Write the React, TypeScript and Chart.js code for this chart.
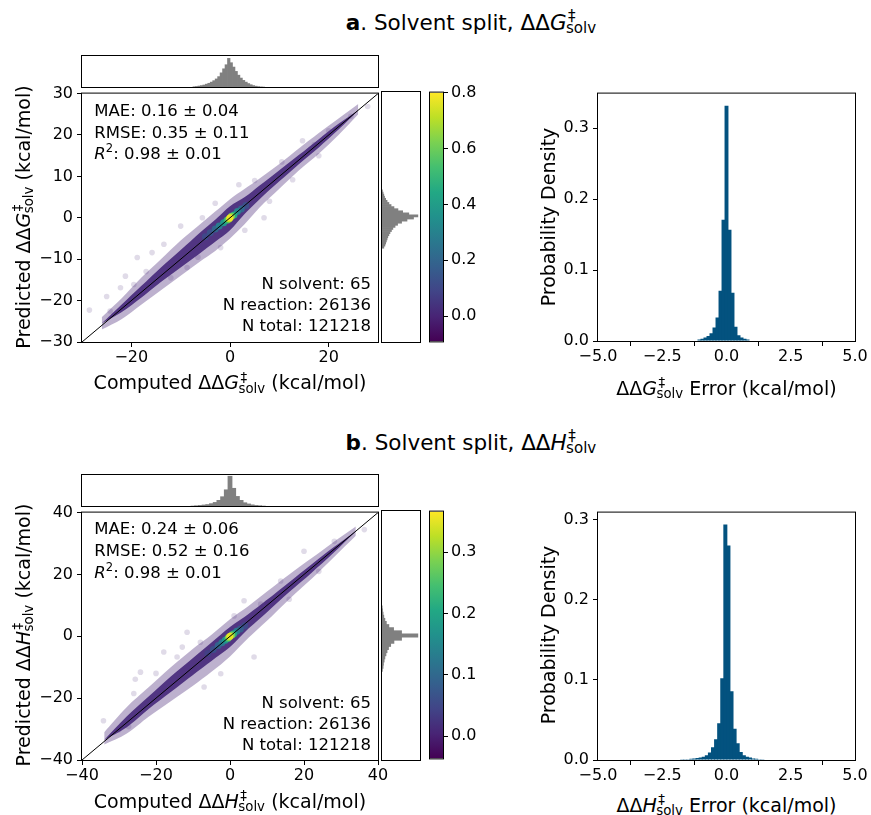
import React, { useEffect, useRef } from 'react';
import { Chart, registerables } from 'chart.js';

Chart.register(...registerables);

const FONT = '"DejaVu Sans", "Liberation Sans", Arial, sans-serif';
Chart.defaults.font.family = FONT;
Chart.defaults.font.size = 16;
Chart.defaults.color = '#000';

// ---------------- Panel a : ΔΔG‡solv ----------------
const rangeA = [-30, 30];
const xTicksA = [-20, 0, 20];
const yTicksA = [-30, -20, -10, 0, 10, 20, 30];
const cbRangeA = [-0.09, 0.8];
const cbTicksA = [0, 0.2, 0.4, 0.6, 0.8];

const topHistXA = [-7.25, -6.75, -6.25, -5.75, -5.25, -4.75, -4.25, -3.75, -3.25, -2.75, -2.25, -1.75, -1.25, -0.75, -0.25, 0.25, 0.75, 1.25, 1.75, 2.25, 2.75, 3.25, 3.75, 4.25, 4.75, 5.25, 5.75, 6.25, 6.75];
const topHistYA = [0.02, 0.03, 0.045, 0.06, 0.08, 0.11, 0.14, 0.18, 0.23, 0.29, 0.37, 0.5, 0.64, 0.78, 1.0, 0.85, 0.7, 0.55, 0.42, 0.32, 0.24, 0.18, 0.13, 0.09, 0.06, 0.04, 0.025, 0.015, 0.01];
const rightHistYA = [6.25, 5.75, 5.25, 4.75, 4.25, 3.75, 3.25, 2.75, 2.25, 1.75, 1.25, 0.75, 0.25, -0.25, -0.75, -1.25, -1.75, -2.25, -2.75, -3.25, -3.75, -4.25, -4.75, -5.25, -5.75, -6.25, -6.75, -7.25];
const rightHistXA = [0.02, 0.04, 0.06, 0.08, 0.11, 0.15, 0.2, 0.26, 0.34, 0.45, 0.58, 0.75, 1.0, 0.88, 0.7, 0.55, 0.44, 0.37, 0.31, 0.27, 0.23, 0.2, 0.17, 0.15, 0.13, 0.11, 0.09, 0.06];

const errXA = [-1.053, -0.936, -0.819, -0.702, -0.585, -0.468, -0.351, -0.234, -0.117, 0, 0.117, 0.234, 0.351, 0.468, 0.585, 0.702, 0.819];
const errYA = [0.002, 0.003, 0.005, 0.007, 0.011, 0.019, 0.033, 0.071, 0.171, 0.332, 0.157, 0.068, 0.02, 0.008, 0.005, 0.003, 0.002];
const errYMaxA = 0.349;

const bandXA = [-26, -22, -18, -14, -10, -6, -3, 0, 3, 6, 10, 14, 18, 22, 26];
const denseUpA = [-25.5, -21, -16.5, -12, -7.8, -3.5, -0.5, 2.8, 5, 7.8, 11.5, 15.2, 19, 22.7, 26];
const denseLoA = [-25.5, -22.8, -19.3, -15.5, -12, -8.5, -5.8, -3, 1, 4.5, 8.8, 13, 17, 21.3, 26];
const hazeUpA = [-24, -19.5, -14.5, -10, -5.5, -1.5, 1.5, 4.5, 7, 9.5, 13, 16.8, 20.5, 24, 27.5];
const hazeLoA = [-27, -24.5, -21, -17.5, -14, -10.5, -8, -5, -1.5, 2.5, 7, 11.5, 15.5, 20, 25];
const outXA = [-28.5, -24.3, -21.2, -19.5, -22.2, -15.8, -13.4, -10, -5.6, 1.8, 6.9, 12.7, 14.7, 17.1, 27.9, 24.5, -18.8, -8.7, -1.9, -17, -12, -6.5, 3, 8, 10.5, 20, -25, -3, 5, 18];
const outYA = [-22.3, -22.5, -14.1, -16.1, -16.9, -8.4, -6.4, -2, 0, 8, 0, 9.2, 18.6, 17.7, 26.9, 24.5, -9.6, -12, -7.2, -13, -14.5, -9.5, -3, 4, 13.5, 21, -19, 3.5, 9, 15];
const coreXA = [-5, -4, 3.2, 2.3, -3, -2.2, 1.5, -1.3, 0.8, -0.6, 0.3, -0.2, 0];
const coreYA = [-4.6, -3.6, 3.0, 2.1, -2.7, -2.0, 1.5, -1.2, 0.7, -0.6, 0.4, -0.3, 0];
const coreDA = [0.1, 0.13, 0.12, 0.2, 0.2, 0.28, 0.3, 0.38, 0.45, 0.5, 0.62, 0.7, 0.78];

// ---------------- Panel b : ΔΔH‡solv ----------------
const rangeB = [-40, 40];
const xTicksB = [-40, -20, 0, 20, 40];
const yTicksB = [-40, -20, 0, 20, 40];
const cbRangeB = [-0.036, 0.366];
const cbTicksB = [0, 0.1, 0.2, 0.3];

const topHistXB = [-10, -9, -8, -7, -6, -5, -4, -3, -2, -1, 0, 1, 2, 3, 4, 5, 6, 7, 8, 9];
const topHistYB = [0.01, 0.02, 0.03, 0.045, 0.06, 0.09, 0.13, 0.2, 0.32, 0.55, 1.0, 0.6, 0.33, 0.2, 0.12, 0.08, 0.05, 0.03, 0.02, 0.01];
const rightHistYB = [9, 8, 7, 6, 5, 4, 3, 2, 1, 0, -1, -2, -3, -4, -5, -6, -7, -8, -9, -10, -11];
const rightHistXB = [0.015, 0.025, 0.04, 0.06, 0.09, 0.13, 0.2, 0.33, 0.55, 1.0, 0.55, 0.34, 0.25, 0.19, 0.15, 0.12, 0.09, 0.07, 0.05, 0.04, 0.02];

const errXB = [-1.845, -1.725, -1.605, -1.485, -1.365, -1.245, -1.125, -1.005, -0.885, -0.765, -0.645, -0.525, -0.405, -0.285, -0.165, -0.045, 0.075, 0.195, 0.315, 0.435, 0.555, 0.675, 0.795, 0.915, 1.035, 1.155, 1.275, 1.395, 1.515];
const errYB = [0.0005, 0.0008, 0.001, 0.001, 0.0015, 0.002, 0.0025, 0.003, 0.004, 0.006, 0.0095, 0.016, 0.026, 0.046, 0.102, 0.294, 0.268, 0.086, 0.039, 0.021, 0.01, 0.006, 0.004, 0.003, 0.002, 0.0015, 0.001, 0.001, 0.0005];
const errYMaxB = 0.309;

const bandXB = [-34, -28, -22, -16, -10, -5, 0, 5, 10, 16, 22, 28, 34];
const denseUpB = [-33.5, -26, -19.5, -13, -7, -2, 3, 7.2, 11.8, 17.5, 23.2, 28.8, 34];
const denseLoB = [-33.5, -29.5, -23.5, -18, -12.5, -8, -3.5, 2.5, 7.8, 14.3, 20.5, 27, 34];
const hazeUpB = [-31, -23, -16.5, -10, -4, 0.5, 5.5, 9.8, 14.5, 20, 25.2, 30.5, 35.5];
const hazeLoB = [-35, -31.5, -26, -21, -16, -11.5, -6.5, -0.5, 5, 12, 18.5, 25.5, 32.5];
const outXB = [-34.2, -30.1, -27.4, -25.6, -24.2, -26, -17.9, -12.9, -14.3, -8, -7, 3.8, 10.1, 20, 36.3, 28.2, 13.7, 8.3, 1.1, -11.6, -2.5, 6.5, -20, 16, 24];
const outYB = [-27.3, -30.3, -29.2, -13.9, -11.6, -18.5, -5.1, -3.5, -6.7, -1.9, -16.4, 11.5, 10.9, 27.5, 34.5, 30.7, 17.9, 10.4, 6.6, 1.3, -12.1, -6.7, -12, 12, 21];
const coreXB = [-6, -4.5, 4, 2.8, -3.2, -2.2, 1.8, -1.3, 1.0, -0.6, 0.5, -0.3, 0];
const coreYB = [-5.6, -4.3, 3.4, 2.4, -3.0, -2.1, 1.6, -1.3, 0.8, -0.7, 0.4, -0.3, 0];
const coreDB = [0.04, 0.06, 0.05, 0.08, 0.09, 0.12, 0.13, 0.17, 0.2, 0.23, 0.28, 0.31, 0.35];

// ---------------- styling helpers ----------------
const VIRIDIS = ['#440154', '#482475', '#414487', '#355f8d', '#2a788e', '#21918c', '#22a884', '#44bf70', '#7ad151', '#bddf26', '#fde725'];
const hexRgb = (h: string) => [parseInt(h.slice(1, 3), 16), parseInt(h.slice(3, 5), 16), parseInt(h.slice(5, 7), 16)];
function viridis(t: number) {
  const c = Math.min(1, Math.max(0, t)) * 10;
  const i = Math.min(9, Math.floor(c));
  const f = c - i;
  const a = hexRgb(VIRIDIS[i]);
  const b = hexRgb(VIRIDIS[i + 1]);
  return `rgb(${a.map((v, k) => Math.round(v + (b[k] - v) * f)).join(',')})`;
}
const DENSE = 'rgba(70,40,122,0.9)';
const HAZE = 'rgba(72,40,120,0.36)';
const OUT = 'rgba(72,40,120,0.17)';
const GRAY = '#808080';
const ERRC = '#03527f';

const fmtInt = (v: number) => String(Math.round(v)).replace('-', '\u2212');
const fmt1 = (v: number) => v.toFixed(1).replace('-', '\u2212');

const boxPlugin = {
  id: 'box',
  afterDatasetsDraw(chart: any) {
    const { ctx, chartArea: a } = chart;
    ctx.save();
    ctx.strokeStyle = '#000';
    ctx.lineWidth = 1;
    ctx.strokeRect(a.left - 0.5, a.top - 0.5, a.right - a.left + 1, a.bottom - a.top + 1);
    ctx.restore();
  },
};

const base = {
  responsive: false,
  animation: false,
  events: [],
  plugins: { legend: { display: false }, tooltip: { enabled: false } },
};

function axis(min: number, max: number, ticks: number[], fmt: (v: number) => string, size: number, horizontal: boolean, pad: number) {
  return {
    type: 'linear',
    min,
    max,
    offset: false,
    afterBuildTicks: (s: any) => {
      s.ticks = ticks.map((v) => ({ value: v }));
    },
    afterFit: (s: any) => {
      if (horizontal) s.height = size;
      else s.width = size;
    },
    ticks: { callback: (v: any) => fmt(Number(v)), autoSkip: false, maxRotation: 0, minRotation: 0, padding: pad, color: '#000', font: { size: 16, family: FONT } },
    grid: { display: true, drawOnChartArea: false, drawTicks: true, tickLength: 5, color: '#000', lineWidth: 1 },
    border: { display: false },
  };
}
const hidden = (min: number, max: number) => ({ type: 'linear', min, max, display: false, offset: false });

type Pads = { l: number; r: number; t: number; b: number };
type Rect = { left: number; top: number; width: number; height: number };

const pts = (xs: number[], ys: number[]) => xs.map((x, i) => ({ x, y: ys[i] }));

function scatterConfig(d: any, pads: Pads) {
  const cols = d.coreD.map((v: number) => viridis((v - d.cb[0]) / (d.cb[1] - d.cb[0])));
  const clear = 'rgba(0,0,0,0)';
  return {
    type: 'scatter',
    data: {
      datasets: [
        { type: 'line', data: [{ x: d.range[0], y: d.range[0] }, { x: d.range[1], y: d.range[1] }], borderColor: '#000', borderWidth: 1, pointRadius: 0, fill: false },
        { type: 'scatter', data: pts(d.coreX, d.coreY), pointRadius: 3.5, pointBackgroundColor: cols, backgroundColor: cols, pointBorderWidth: 0, borderWidth: 0 },
        { type: 'line', data: pts(d.bandX, d.denseUp), fill: '+1', backgroundColor: DENSE, borderColor: clear, pointRadius: 0, tension: 0.3 },
        { type: 'line', data: pts(d.bandX, d.denseLo), fill: false, borderColor: clear, pointRadius: 0, tension: 0.3 },
        { type: 'line', data: pts(d.bandX, d.hazeUp), fill: '+1', backgroundColor: HAZE, borderColor: clear, pointRadius: 0, tension: 0.3 },
        { type: 'line', data: pts(d.bandX, d.hazeLo), fill: false, borderColor: clear, pointRadius: 0, tension: 0.3 },
        { type: 'scatter', data: pts(d.outX, d.outY), pointRadius: 2.8, pointBackgroundColor: OUT, backgroundColor: OUT, pointBorderWidth: 0, borderWidth: 0 },
      ],
    },
    options: {
      ...base,
      layout: { padding: { left: 0, top: pads.t, right: pads.r, bottom: 0 } },
      scales: {
        x: axis(d.range[0], d.range[1], d.xTicks, fmtInt, pads.b, true, 1),
        y: axis(d.range[0], d.range[1], d.yTicks, fmtInt, pads.l, false, 4),
      },
    },
    plugins: [boxPlugin],
  };
}

function topHistConfig(xs: number[], ys: number[], range: number[], ymax: number, pads: Pads) {
  return {
    type: 'bar',
    data: { datasets: [{ data: pts(xs, ys), backgroundColor: GRAY, borderWidth: 0, barPercentage: 1.3, categoryPercentage: 1 }] },
    options: {
      ...base,
      layout: { padding: { left: pads.l, right: pads.r, top: pads.t, bottom: pads.b } },
      scales: { x: hidden(range[0], range[1]), y: hidden(0, ymax) },
    },
    plugins: [boxPlugin],
  };
}

function rightHistConfig(ys: number[], xs: number[], range: number[], xmax: number, pads: Pads) {
  return {
    type: 'bar',
    data: { datasets: [{ data: pts(xs, ys), backgroundColor: GRAY, borderWidth: 0, barPercentage: 1.3, categoryPercentage: 1 }] },
    options: {
      ...base,
      indexAxis: 'y',
      layout: { padding: { left: pads.l, right: pads.r, top: pads.t, bottom: pads.b } },
      scales: { x: hidden(0, xmax), y: hidden(range[0], range[1]) },
    },
    plugins: [boxPlugin],
  };
}

function colorbarConfig(range: number[], ticks: number[], pads: Pads) {
  return {
    type: 'bar',
    data: {
      labels: [''],
      datasets: [
        {
          data: [[range[0], range[1]]],
          borderWidth: 0,
          barPercentage: 1,
          categoryPercentage: 1,
          inflateAmount: 0,
          backgroundColor: (c: any) => {
            const ch = c.chart;
            const y = ch.scales && ch.scales.y;
            if (!ch.chartArea || !y) return VIRIDIS[0];
            const g = ch.ctx.createLinearGradient(0, y.getPixelForValue(range[0]), 0, y.getPixelForValue(range[1]));
            VIRIDIS.forEach((col, i) => g.addColorStop(i / 10, col));
            return g;
          },
        },
      ],
    },
    options: {
      ...base,
      layout: { padding: { left: pads.l, top: pads.t, bottom: pads.b, right: 0 } },
      scales: {
        x: { type: 'category', display: false },
        y: { ...axis(range[0], range[1], ticks, fmt1, pads.r, false, 3), position: 'right' },
      },
    },
    plugins: [boxPlugin],
  };
}

function errHistConfig(xs: number[], ys: number[], ymax: number, pads: Pads) {
  return {
    type: 'bar',
    data: { datasets: [{ data: pts(xs, ys), backgroundColor: ERRC, borderWidth: 0, barPercentage: 1.3, categoryPercentage: 1 }] },
    options: {
      ...base,
      layout: { padding: { left: 0, top: pads.t, right: pads.r, bottom: 0 } },
      scales: {
        x: axis(-5, 5, [-5, -2.5, 0, 2.5, 5], fmt1, pads.b, true, 1),
        y: axis(0, ymax, [0, 0.1, 0.2, 0.3], fmt1, pads.l, false, 4),
      },
    },
    plugins: [boxPlugin],
  };
}

function ChartBox({ area, pads, build }: { area: Rect; pads: Pads; build: () => any }) {
  const ref = useRef<HTMLCanvasElement>(null);
  const w = area.width + pads.l + pads.r;
  const h = area.height + pads.t + pads.b;
  useEffect(() => {
    const chart = new Chart(ref.current as HTMLCanvasElement, build());
    return () => chart.destroy();
  }, []);
  return (
    <div style={{ position: 'absolute', left: area.left - pads.l, top: area.top - pads.t, width: w, height: h }}>
      <canvas ref={ref} width={w} height={h} style={{ width: w, height: h, display: 'block' }} />
    </div>
  );
}

// ---------------- text helpers ----------------
function DD({ letter, fs }: { letter: string; fs: number }) {
  return (
    <span>
      ΔΔ<i>{letter}</i>
      <span style={{ position: 'relative', display: 'inline-block', width: 1.38 * fs, height: 0, verticalAlign: 'baseline' }}>
        <span style={{ position: 'absolute', left: 0.07 * fs, bottom: 0.29 * fs, fontSize: 0.7 * fs, lineHeight: 1, whiteSpace: 'nowrap' }}>‡</span>
        <span style={{ position: 'absolute', left: -0.03 * fs, bottom: -0.3 * fs, fontSize: 0.7 * fs, lineHeight: 1, whiteSpace: 'nowrap' }}>solv</span>
      </span>
    </span>
  );
}

function Txt({ x, y, fs, align = 'left', children }: any) {
  const tx = align === 'center' ? 'translateX(-50%)' : align === 'right' ? 'translateX(-100%)' : 'none';
  return (
    <div style={{ position: 'absolute', left: x, top: y - 0.846 * fs, fontSize: fs, lineHeight: `${fs}px`, whiteSpace: 'nowrap', transform: tx }}>
      {children}
    </div>
  );
}

function VTxt({ x, y, fs, children }: any) {
  return (
    <div
      style={{
        position: 'absolute',
        left: x - 0.346 * fs,
        top: y,
        fontSize: fs,
        lineHeight: `${fs}px`,
        whiteSpace: 'nowrap',
        transform: 'translate(-50%,-50%) rotate(-90deg)',
      }}
    >
      {children}
    </div>
  );
}

const R2 = ({ fs }: { fs: number }) => (
  <>
    <i>R</i>
    <span style={{ position: 'relative', top: -0.42 * fs, fontSize: 0.7 * fs }}>2</span>
  </>
);

const statsA = ['MAE: 0.16 ± 0.04', 'RMSE: 0.35 ± 0.11', ': 0.98 ± 0.01'];
const statsB = ['MAE: 0.24 ± 0.06', 'RMSE: 0.52 ± 0.16', ': 0.98 ± 0.01'];
const countsA = ['N solvent: 65', 'N reaction: 26136', 'N total: 121218'];
const countsB = ['N solvent: 65', 'N reaction: 26136', 'N total: 121218'];

const panelA = {
  range: rangeA, xTicks: xTicksA, yTicks: yTicksA, cb: cbRangeA,
  bandX: bandXA, denseUp: denseUpA, denseLo: denseLoA, hazeUp: hazeUpA, hazeLo: hazeLoA,
  outX: outXA, outY: outYA, coreX: coreXA, coreY: coreYA, coreD: coreDA,
};
const panelB = {
  range: rangeB, xTicks: xTicksB, yTicks: yTicksB, cb: cbRangeB,
  bandX: bandXB, denseUp: denseUpB, denseLo: denseLoB, hazeUp: hazeUpB, hazeLo: hazeLoB,
  outX: outXB, outY: outYB, coreX: coreXB, coreY: coreYB, coreD: coreDB,
};

const scatterPads = { l: 50, r: 16, t: 12, b: 30 };
const margPads = { l: 2, r: 2, t: 2, b: 2 };
const cbPads = { l: 2, r: 40, t: 12, b: 12 };
const errPads = { l: 50, r: 16, t: 12, b: 30 };

export default function App() {
  const L = 19; // axis label size
  const A = 16.5; // annotation size
  const T = 21.5; // title size
  return (
    <div style={{ position: 'fixed', left: 0, top: 0, width: 871, height: 815, background: '#fff', fontFamily: FONT, color: '#000', overflow: 'hidden' }}>
      {/* ---------- Row a ---------- */}
      <ChartBox area={{ left: 82, top: 56, width: 296, height: 31 }} pads={margPads} build={() => topHistConfig(topHistXA, topHistYA, rangeA, 1.07, margPads)} />
      <ChartBox area={{ left: 82, top: 92, width: 296, height: 250 }} pads={scatterPads} build={() => scatterConfig(panelA, scatterPads)} />
      <ChartBox area={{ left: 382, top: 92, width: 38, height: 250 }} pads={margPads} build={() => rightHistConfig(rightHistYA, rightHistXA, rangeA, 1.05, margPads)} />
      <ChartBox area={{ left: 430, top: 92, width: 13, height: 250 }} pads={cbPads} build={() => colorbarConfig(cbRangeA, cbTicksA, cbPads)} />
      <ChartBox area={{ left: 598, top: 92, width: 257, height: 249 }} pads={errPads} build={() => errHistConfig(errXA, errYA, errYMaxA, errPads)} />

      {/* ---------- Row b ---------- */}
      <ChartBox area={{ left: 82, top: 475, width: 296, height: 31 }} pads={margPads} build={() => topHistConfig(topHistXB, topHistYB, rangeB, 1.03, margPads)} />
      <ChartBox area={{ left: 82, top: 511, width: 296, height: 249 }} pads={scatterPads} build={() => scatterConfig(panelB, scatterPads)} />
      <ChartBox area={{ left: 382, top: 511, width: 38, height: 249 }} pads={margPads} build={() => rightHistConfig(rightHistYB, rightHistXB, rangeB, 1.05, margPads)} />
      <ChartBox area={{ left: 430, top: 511, width: 13, height: 248 }} pads={cbPads} build={() => colorbarConfig(cbRangeB, cbTicksB, cbPads)} />
      <ChartBox area={{ left: 598, top: 511, width: 257, height: 249 }} pads={errPads} build={() => errHistConfig(errXB, errYB, errYMaxB, errPads)} />

      {/* ---------- Titles ---------- */}
      <Txt x={471} y={30} fs={T} align="center">
        <b>a</b>. Solvent split, <DD letter="G" fs={T} />
      </Txt>
      <Txt x={471} y={450} fs={T} align="center">
        <b>b</b>. Solvent split, <DD letter="H" fs={T} />
      </Txt>

      {/* ---------- Row a labels ---------- */}
      <Txt x={230} y={389.5} fs={L} align="center">
        Computed <DD letter="G" fs={L} /> (kcal/mol)
      </Txt>
      <VTxt x={30} y={217} fs={L}>
        Predicted <DD letter="G" fs={L} /> (kcal/mol)
      </VTxt>
      <Txt x={726.5} y={395} fs={L} align="center">
        <DD letter="G" fs={L} /> Error (kcal/mol)
      </Txt>
      <VTxt x={555} y={217} fs={L}>Probability Density</VTxt>

      <Txt x={94.3} y={117} fs={A}>{statsA[0]}</Txt>
      <Txt x={94.3} y={138.7} fs={A}>{statsA[1]}</Txt>
      <Txt x={94.3} y={160.3} fs={A}>
        <R2 fs={A} />
        {statsA[2]}
      </Txt>
      <Txt x={371} y={290.3} fs={A} align="right">{countsA[0]}</Txt>
      <Txt x={371} y={311} fs={A} align="right">{countsA[1]}</Txt>
      <Txt x={371} y={332} fs={A} align="right">{countsA[2]}</Txt>

      {/* ---------- Row b labels ---------- */}
      <Txt x={230} y={808} fs={L} align="center">
        Computed <DD letter="H" fs={L} /> (kcal/mol)
      </Txt>
      <VTxt x={30} y={635} fs={L}>
        Predicted <DD letter="H" fs={L} /> (kcal/mol)
      </VTxt>
      <Txt x={726.5} y={812} fs={L} align="center">
        <DD letter="H" fs={L} /> Error (kcal/mol)
      </Txt>
      <VTxt x={555} y={635} fs={L}>Probability Density</VTxt>

      <Txt x={94.3} y={535.3} fs={A}>{statsB[0]}</Txt>
      <Txt x={94.3} y={557} fs={A}>{statsB[1]}</Txt>
      <Txt x={94.3} y={578.7} fs={A}>
        <R2 fs={A} />
        {statsB[2]}
      </Txt>
      <Txt x={371} y={708.7} fs={A} align="right">{countsB[0]}</Txt>
      <Txt x={371} y={730.3} fs={A} align="right">{countsB[1]}</Txt>
      <Txt x={371} y={751.3} fs={A} align="right">{countsB[2]}</Txt>
    </div>
  );
}
